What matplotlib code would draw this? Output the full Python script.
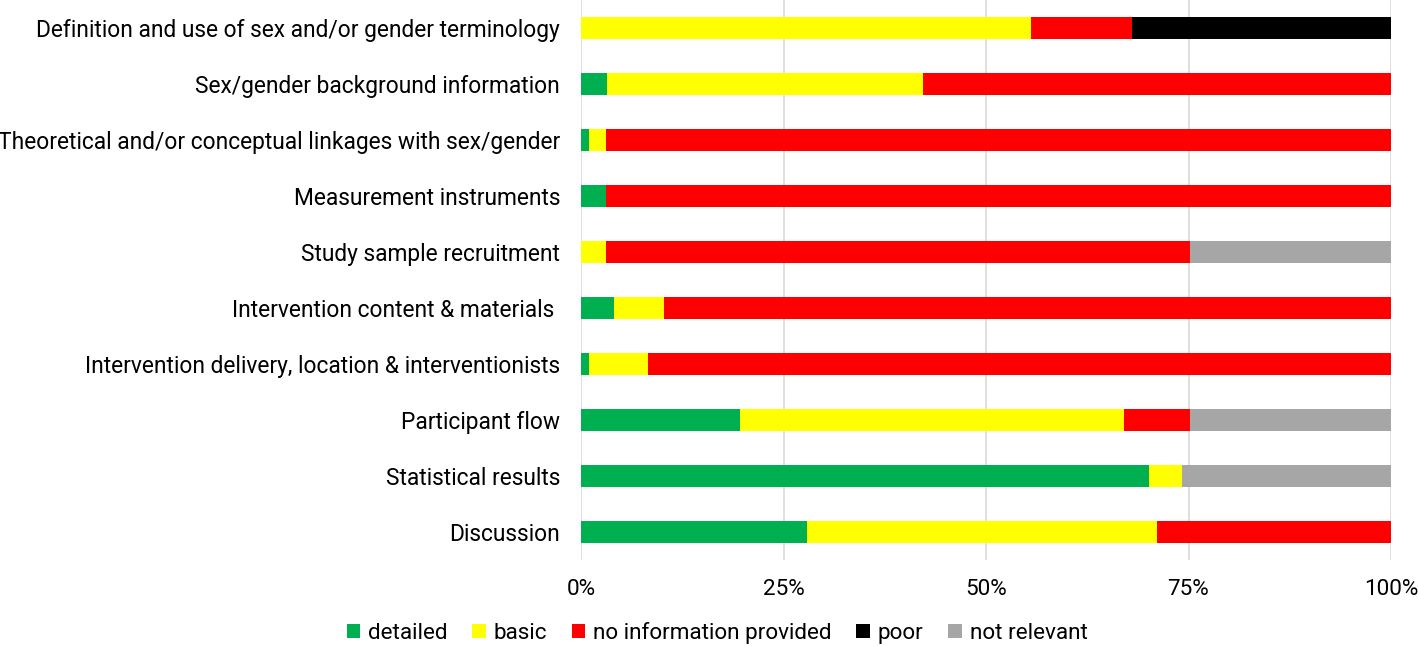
import matplotlib
matplotlib.use("Agg")
import matplotlib.pyplot as plt
import numpy as np

plt.rcParams['font.family'] = ['Roboto', 'DejaVu Sans']

categories = [
    "Definition and use of sex and/or gender terminology",
    "Sex/gender background information",
    "Theoretical and/or conceptual linkages with sex/gender",
    "Measurement instruments",
    "Study sample recruitment",
    "Intervention content & materials ",
    "Intervention delivery, location & interventionists",
    "Participant flow",
    "Statistical results",
    "Discussion",
]
series_names = ["detailed", "basic", "no information provided", "poor", "not relevant"]
detailed = [0.0, 3.2, 1.0, 3.1, 0.0, 4.1, 1.0, 19.6, 70.1, 27.9]
basic = [55.6, 39.0, 2.1, 0.0, 3.1, 6.1, 7.3, 47.4, 4.1, 43.2]
no_info = [12.4, 57.8, 96.9, 96.9, 72.1, 89.8, 91.7, 8.2, 0.0, 28.9]
poor = [32.0, 0, 0, 0, 0, 0, 0, 0, 0, 0]
not_relevant = [0, 0, 0, 0, 24.8, 0, 0, 24.8, 25.8, 0]
colors = ["#00b050", "#ffff00", "#ff0000", "#000000", "#a6a6a6"]

fig = plt.figure(figsize=(14.18, 6.46), dpi=100)
ax = fig.add_axes([581/1418, 1-560/646, 810/1418, 560/646])

data = [detailed, basic, no_info, poor, not_relevant]
y = np.arange(len(categories))
left = np.zeros(len(categories))
for name, vals, c in zip(series_names, data, colors):
    vals = np.array(vals, dtype=float)
    ax.barh(y, vals, left=left, height=0.41, color=c, label=name, zorder=3)
    left += vals

ax.set_xlim(0, 100)
ax.set_ylim(9.5, -0.5)
ax.set_yticks(y)
ax.set_yticklabels(categories, fontsize=16.4)
ax.set_xticks([0, 25, 50, 75, 100])
ax.set_xticklabels(["0%", "25%", "50%", "75%", "100%"], fontsize=16.2)
ax.tick_params(axis='y', length=0, pad=15)
ax.tick_params(axis='x', length=0, pad=14)
ax.grid(axis='x', color='#d9d9d9', linewidth=1.2, zorder=0)
for s in ax.spines.values():
    s.set_visible(False)

handles, labels = ax.get_legend_handles_labels()
fig.legend(handles, labels, loc='center', bbox_to_anchor=(717/1418, 1-633/646), ncol=5,
           frameon=False, fontsize=16.2, handlelength=0.6, handleheight=0.6,
           handletextpad=0.35, columnspacing=1.1)

fig.savefig("out.png", dpi=100)
